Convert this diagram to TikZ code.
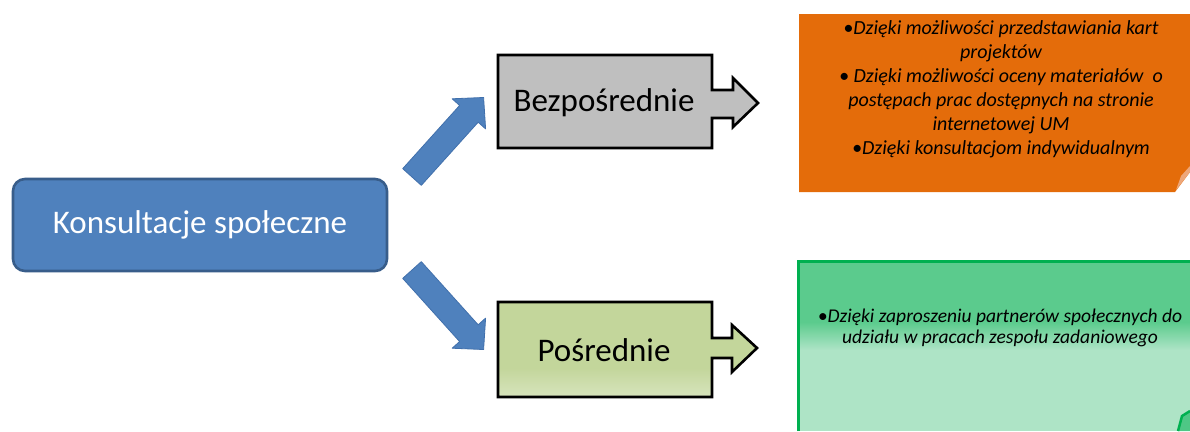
\documentclass[tikz,border=0pt]{standalone}
\usepackage{fontspec}
\setmainfont{Carlito}
\definecolor{bluefill}{HTML}{4F81BD}
\definecolor{blueline}{HTML}{385D8A}
\definecolor{arrowline}{HTML}{4170AC}
\definecolor{grayfill}{HTML}{BFBFBF}
\definecolor{olivetop}{HTML}{C3D69B}
\definecolor{olivebot}{HTML}{D7E4BD}
\definecolor{orangefill}{HTML}{E46C0A}
\definecolor{orangefold}{HTML}{EDA77A}
\definecolor{greentop}{HTML}{5BCB8D}
\definecolor{greenbot}{HTML}{AEE4C6}
\definecolor{greenline}{HTML}{00B050}
\tikzset{
  mainbox/.style={draw=blueline, line width=2.6pt, fill=bluefill, rounded corners=12pt,
    minimum width=374pt, minimum height=92pt, text=white, font=\fontsize{33}{38}\selectfont},
  blockline/.style={draw=black, line width=2.6pt, line join=miter},
  bluearrow/.style={fill=bluefill, draw=arrowline, line width=0.8pt, line join=round},
  boxlabel/.style={font=\fontsize{33}{38}\selectfont, text=black},
  notetext/.style={font=\itshape\fontsize{20}{24}\selectfont, align=center, text=black}
}
\begin{document}
\begin{tikzpicture}[x=1pt,y=-1pt]
\useasboundingbox (0,0) rectangle (1190,431);
\fill[white] (0,0) rectangle (1190,431);

% main node
\node[mainbox] (kons) at (200,225) {Konsultacje społeczne};

% blue arrows
\coordinate (upTail) at (412,177);
\coordinate (downTail) at (412,270);
\draw[bluearrow, shift={(upTail)}, rotate=48]
  (0,-12.5) -- (85,-12.5) -- (85,-22.5) -- (107,0) -- (85,22.5) -- (85,12.5) -- (0,12.5) -- cycle;
\draw[bluearrow, shift={(downTail)}, rotate=-48]
  (0,-12.5) -- (85,-12.5) -- (85,-22.5) -- (107,0) -- (85,22.5) -- (85,12.5) -- (0,12.5) -- cycle;

% gray block arrow
\fill[grayfill] (498,55) -- (712,55) -- (712,90) -- (733,90) -- (733,78) -- (758,103) -- (733,127) -- (733,118) -- (712,118) -- (712,148) -- (498,148) -- cycle;
\draw[blockline] (498,55) -- (712,55) -- (712,90) -- (733,90) -- (733,78) -- (758,103) -- (733,127) -- (733,118) -- (712,118) -- (712,148) -- (498,148) -- cycle;
\node[boxlabel] (bez) at (604,103) {Bezpośrednie};

% olive block arrow
\fill[olivetop] (498,302) -- (712,302) -- (712,338) -- (732,338) -- (732,325) -- (757,348) -- (732,372) -- (732,358) -- (712,358) -- (712,397) -- (498,397) -- cycle;
\shade[top color=olivetop, bottom color=olivebot] (498,368) rectangle (712,397);
\draw[blockline] (498,302) -- (712,302) -- (712,338) -- (732,338) -- (732,325) -- (757,348) -- (732,372) -- (732,358) -- (712,358) -- (712,397) -- (498,397) -- cycle;
\node[boxlabel] (pos) at (604,350) {Pośrednie};

% orange note
\fill[orangefill] (799,14) -- (1190,14) -- (1190,172) -- (1175,192) -- (799,192) -- cycle;
\fill[orangefold] (1176,190) -- (1181,176) -- (1190,166) -- (1190,172) -- cycle;
\node[notetext] (onote) at (1001,89) {•Dzięki możliwości przedstawiania kart\\projektów\\• Dzięki możliwości oceny materiałów\ \ o\\postępach prac dostępnych na stronie\\internetowej UM\\•Dzięki konsultacjom indywidualnym};

% green note
\fill[greentop] (798,261) rectangle (1190,431);
\shade[top color=greentop, bottom color=greenbot] (798,322) rectangle (1190,350);
\fill[greenbot] (798,350) rectangle (1190,431);
\fill[greenline!55!greenbot] (1178,431) -- (1182,416) -- (1190,411) -- (1190,431) -- cycle;
\draw[greenline, line width=2.5pt] (1178,431) -- (1182,416) -- (1190,411);
\draw[greenline, line width=3pt] (798,431) -- (798,261) -- (1190,261);
\node[notetext, font=\itshape\fontsize{19.5}{21}\selectfont] (gnote) at (1000,328) {•Dzięki zaproszeniu partnerów społecznych do\\udziału w pracach zespołu zadaniowego};
\end{tikzpicture}
\end{document}
